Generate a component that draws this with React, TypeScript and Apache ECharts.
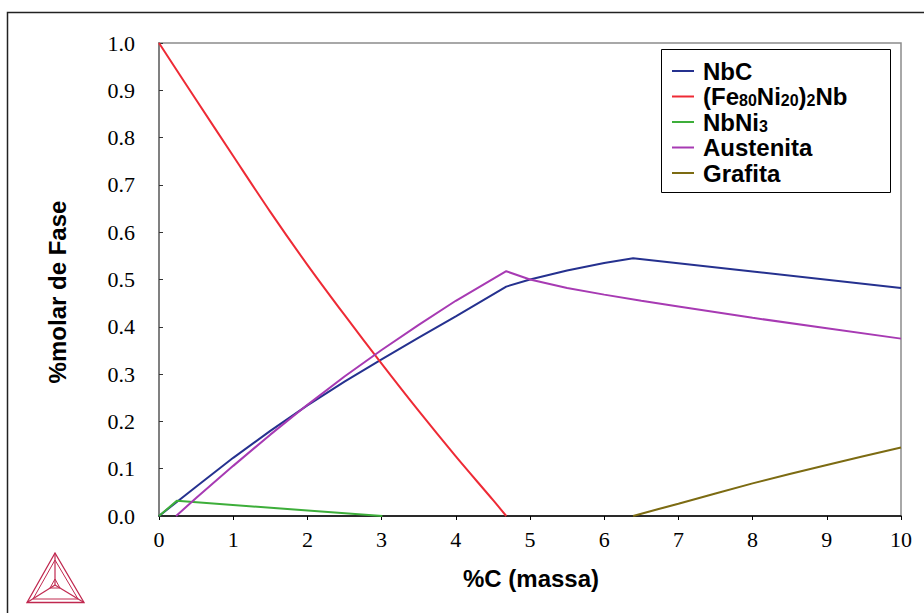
import React, { useEffect, useRef } from 'react';
import * as echarts from 'echarts';

const seriesNames = ['NbC', '(Fe80Ni20)2Nb', 'NbNi3', 'Austenita', 'Grafita'];
const seriesColors = ['#25318f', '#ee2a35', '#3dae3a', '#a73ab3', '#7c6b12'];
const seriesSmooth = [false, 0.3, false, false, 0.2];

const nbcData = [[0, 0], [0.5, 0.062], [1, 0.123], [1.5, 0.18], [2, 0.234], [2.5, 0.284], [3, 0.331], [3.5, 0.377], [4, 0.422], [4.68, 0.485], [5, 0.5], [5.5, 0.519], [6, 0.535], [6.39, 0.545], [8, 0.517], [10, 0.482]];
const feNiNbData = [[0, 1], [0.5, 0.88], [1, 0.761], [1.5, 0.643], [2, 0.531], [2.5, 0.425], [3, 0.322], [3.5, 0.222], [4, 0.126], [4.5, 0.034], [4.68, 0]];
const nbNi3Data = [[0, 0], [0.24, 0.032], [3.01, 0]];
const austenitaData = [[0.23, 0], [0.5, 0.038], [1, 0.106], [1.5, 0.172], [2, 0.235], [2.5, 0.295], [3, 0.351], [3.5, 0.404], [4, 0.455], [4.68, 0.5175], [5, 0.5], [5.5, 0.482], [6, 0.468], [6.5, 0.455], [7, 0.443], [8, 0.419], [9, 0.397], [10, 0.375]];
const grafitaData = [[6.39, 0], [7, 0.026], [8, 0.069], [9, 0.108], [10, 0.145]];

const allData = [nbcData, feNiNbData, nbNi3Data, austenitaData, grafitaData];

const legendRich: Record<string, string> = {
  'NbC': '{b|NbC}',
  '(Fe80Ni20)2Nb': '{b|(Fe}{s|80}{b|Ni}{s|20}{b|)}{s|2}{b|Nb}',
  'NbNi3': '{b|NbNi}{s|3}',
  'Austenita': '{b|Austenita}',
  'Grafita': '{b|Grafita}',
};

const logoColor = '#c0284f';

export default function App() {
  const ref = useRef<HTMLDivElement>(null);
  useEffect(() => {
    const chart = echarts.init(ref.current!, null, { renderer: 'svg' });
    const serif = 'Liberation Serif';
    const sans = 'Liberation Sans';
    chart.setOption({
      animation: false,
      backgroundColor: '#ffffff',
      grid: {
        left: 159, top: 43, right: 23, bottom: 97,
        show: true, borderColor: '#8c8c8c', borderWidth: 1.5,
      },
      xAxis: {
        type: 'value', min: 0, max: 10, interval: 1,
        axisLine: { show: true, lineStyle: { color: '#000', width: 1.5 } },
        axisTick: { show: true, inside: false, length: 4, lineStyle: { color: '#000' } },
        axisLabel: { color: '#000', fontFamily: serif, fontSize: 22, margin: 12 },
        splitLine: { show: false },
      },
      yAxis: {
        type: 'value', min: 0, max: 1, interval: 0.1,
        axisLine: { show: true, lineStyle: { color: '#808080', width: 2 } },
        axisTick: { show: true, inside: true, length: 4, lineStyle: { color: '#333' } },
        axisLabel: { color: '#000', fontFamily: serif, fontSize: 22, margin: 24, formatter: (v: number) => v.toFixed(1) },
        splitLine: { show: false },
      },
      legend: {
        orient: 'vertical', left: 672, top: 59, padding: 0,
        itemWidth: 22, itemHeight: 2, itemGap: 1.5, icon: 'rect',
        data: seriesNames,
        formatter: (name: string) => legendRich[name] || name,
        textStyle: {
          color: '#000',
          padding: [0, 0, 0, 4],
          rich: {
            b: { fontFamily: sans, fontWeight: 'bold', fontSize: 24, lineHeight: 24, color: '#000' },
            s: { fontFamily: sans, fontWeight: 'bold', fontSize: 16, lineHeight: 11, verticalAlign: 'bottom', color: '#000' },
          },
        },
      },
      graphic: [
        { type: 'rect', shape: { x: 7.5, y: 12.5, width: 1000, height: 1000 }, style: { fill: 'none', stroke: '#222', lineWidth: 1.5 }, silent: true, z: 0 },
        { type: 'rect', shape: { x: 661.5, y: 49.5, width: 229, height: 143 }, style: { fill: '#fff', stroke: '#000', lineWidth: 1 }, z: 1 },
        { type: 'text', x: 57, y: 292, rotation: Math.PI / 2, style: { text: '%molar de Fase', fontFamily: sans, fontWeight: 'bold', fontSize: 24, fill: '#000', align: 'center', verticalAlign: 'middle' } },
        { type: 'text', x: 531, y: 578, style: { text: '%C (massa)', fontFamily: sans, fontWeight: 'bold', fontSize: 24, fill: '#000', align: 'center', verticalAlign: 'middle' } },
        {
          type: 'group', children: [
            { type: 'polygon', shape: { points: [[55, 553], [27, 602.5], [84, 602.5]] }, style: { fill: 'none', stroke: logoColor, lineWidth: 1.3 } },
            { type: 'polygon', shape: { points: [[55, 560], [33, 599], [78, 599]] }, style: { fill: 'none', stroke: logoColor, lineWidth: 1 } },
            { type: 'line', shape: { x1: 55, y1: 553, x2: 55, y2: 585 }, style: { stroke: logoColor, lineWidth: 1.2 } },
            { type: 'line', shape: { x1: 27, y1: 602.5, x2: 55, y2: 585 }, style: { stroke: logoColor, lineWidth: 1.2 } },
            { type: 'line', shape: { x1: 84, y1: 602.5, x2: 55, y2: 585 }, style: { stroke: logoColor, lineWidth: 1.2 } },
            { type: 'polygon', shape: { points: [[55, 579], [50, 588], [60, 588]] }, style: { fill: 'none', stroke: logoColor, lineWidth: 1 } },
          ],
        },
      ],
      series: seriesNames.map((name, i) => ({
        name,
        type: 'line',
        data: allData[i],
        showSymbol: false,
        symbol: 'none',
        smooth: seriesSmooth[i],
        color: seriesColors[i],
        lineStyle: { color: seriesColors[i], width: 2 },
        z: 3,
      })),
    });
    return () => chart.dispose();
  }, []);
  return <div ref={ref} style={{ position: 'fixed', left: 0, top: 0, width: 924, height: 613, background: '#fff' }} />;
}
